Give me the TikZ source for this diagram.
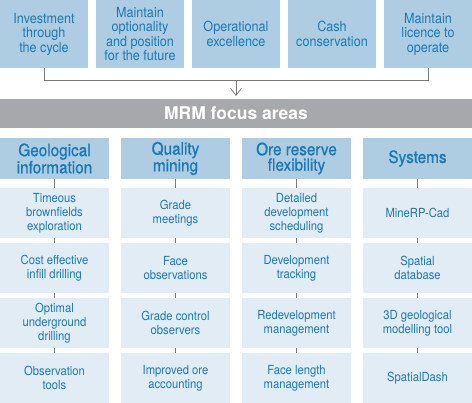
\documentclass[tikz,border=0pt]{standalone}
\usepackage{fontspec}
\setmainfont{TeX Gyre Heros}[FakeStretch=0.9]
\newfontfamily\barfont{TeX Gyre Heros}
\newfontfamily\headfont{TeX Gyre Heros}[FakeStretch=0.9,FakeBold=0.8]
\usetikzlibrary{arrows.meta}
\definecolor{topblue}{RGB}{174,205,226}
\definecolor{itemblue}{RGB}{225,236,245}
\definecolor{txtblue}{RGB}{24,121,183}
\definecolor{bargray}{RGB}{167,168,172}
\definecolor{linegray}{RGB}{120,120,120}
\begin{document}
\begin{tikzpicture}[x=1pt,y=-1pt,
  topbox/.style={fill=topblue, minimum width=88pt, minimum height=68pt, inner sep=0pt, align=center, text=txtblue, font=\fontsize{14}{14.5}\selectfont},
  headbox/.style={fill=topblue, minimum width=109pt, minimum height=41pt, inner sep=0pt, align=center, text=txtblue, font=\headfont\fontsize{17}{15.5}\selectfont},
  itembox/.style={fill=itemblue, minimum width=109pt, minimum height=50pt, inner sep=0pt, align=center, text=txtblue, font=\fontsize{12.5}{14}\selectfont},
  conn/.style={draw=linegray, line width=0.8pt}]
\useasboundingbox (0,0) rectangle (472,403);
% top boxes
\node[topbox] (t1) at (44,34) {Investment\\through\\the cycle};
\node[topbox] (t2) at (140,34) {Maintain\\optionality\\and position\\for the future};
\node[topbox] (t3) at (236,34) {Operational\\excellence};
\node[topbox] (t4) at (332,34) {Cash\\conservation};
\node[topbox] (t5) at (428,34) {Maintain\\licence to\\operate};
% bar
\node[fill=bargray, minimum width=472pt, minimum height=29pt, inner sep=0pt, text=white, font=\barfont\bfseries\fontsize{17.5}{18}\selectfont] (bar) at (236,113.5) {MRM focus areas};
% connector
\coordinate (j1) at (44,80);
\coordinate (j5) at (428,80);
\coordinate (jm) at (236,80);
\coordinate (arr) at (236,96);
\draw[conn] (t1.south) -- (j1) -- (j5) -- (t5.south);
\draw[conn, -{Straight Barb[length=7pt,width=11pt]}] (jm) -- (arr);
% headers
\node[headbox] (h1) at (54.5,158.5) {Geological\\information};
\node[headbox] (h2) at (175.5,158.5) {Quality\\mining};
\node[headbox] (h3) at (296.5,158.5) {Ore reserve\\flexibility};
\node[headbox] (h4) at (417.5,158.5) {Systems};
% column 1
\node[itembox] (a1) at (54.5,213) {Timeous\\brownfields\\exploration};
\node[itembox] (a2) at (54.5,268) {Cost effective\\infill drilling};
\node[itembox] (a3) at (54.5,323) {Optimal\\underground\\drilling};
\node[itembox] (a4) at (54.5,378) {Observation\\tools};
% column 2
\node[itembox] (b1) at (175.5,213) {Grade\\meetings};
\node[itembox] (b2) at (175.5,268) {Face\\observations};
\node[itembox] (b3) at (175.5,323) {Grade control\\observers};
\node[itembox] (b4) at (175.5,378) {Improved ore\\accounting};
% column 3
\node[itembox] (c1) at (296.5,213) {Detailed\\development\\scheduling};
\node[itembox] (c2) at (296.5,268) {Development\\tracking};
\node[itembox] (c3) at (296.5,323) {Redevelopment\\management};
\node[itembox] (c4) at (296.5,378) {Face length\\management};
% column 4
\node[itembox] (d1) at (417.5,213) {MineRP-Cad};
\node[itembox] (d2) at (417.5,268) {Spatial\\database};
\node[itembox] (d3) at (417.5,323) {3D geological\\modelling tool};
\node[itembox] (d4) at (417.5,378) {SpatialDash};
% vertical connectors
\foreach \c in {a,b,c,d}{
  \draw[conn] (\c1.south) -- (\c2.north);
  \draw[conn] (\c2.south) -- (\c3.north);
  \draw[conn] (\c3.south) -- (\c4.north);
}
\draw[conn] (h1.south) -- (a1.north);
\draw[conn] (h2.south) -- (b1.north);
\draw[conn] (h3.south) -- (c1.north);
\draw[conn] (h4.south) -- (d1.north);
\end{tikzpicture}
\end{document}
